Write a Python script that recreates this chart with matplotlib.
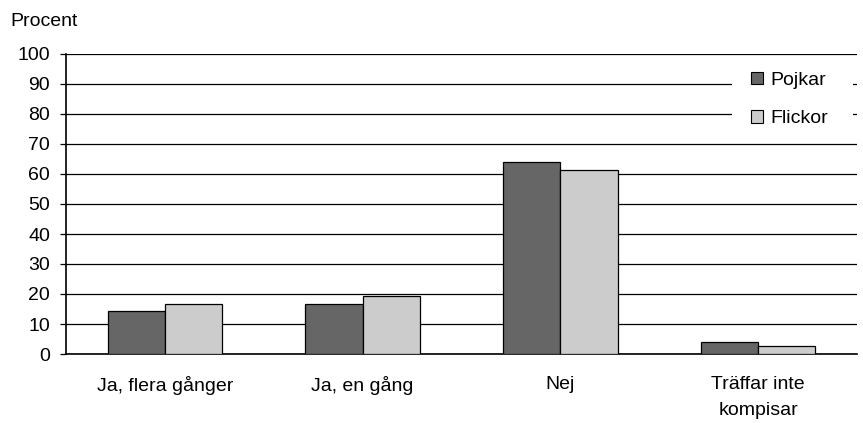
import numpy as np
import matplotlib
matplotlib.use('Agg')
import matplotlib.pyplot as plt
from matplotlib.patches import Rectangle

plt.rcParams['font.family'] = ['Liberation Sans', 'DejaVu Sans']

categories = ['Ja, flera gånger', 'Ja, en gång', 'Nej', 'Träffar inte\nkompisar']
pojkar = [14.5, 16.6, 63.9, 3.9]
flickor = [16.6, 19.4, 61.2, 2.6]
series_names = ['Pojkar', 'Flickor']
colors = ['#666666', '#cccccc']

fs = 14

fig = plt.figure(figsize=(8.63, 4.23), dpi=100)
ax = fig.add_axes([66 / 863, 1 - 354 / 423, (857 - 66) / 863, 300 / 423])

x = np.arange(len(categories))
w = 0.29
ax.bar(x - w / 2, pojkar, w, color=colors[0], edgecolor='black', linewidth=0.9,
       label=series_names[0], zorder=3)
ax.bar(x + w / 2, flickor, w, color=colors[1], edgecolor='black', linewidth=0.9,
       label=series_names[1], zorder=3)

ax.set_xlim(-0.5, len(categories) - 0.5)
ax.set_ylim(0, 100)
ax.set_yticks(np.arange(0, 101, 10))
ax.yaxis.grid(True, color='black', linewidth=0.9, zorder=0)
ax.set_axisbelow(True)
ax.set_xticks(x)
ax.set_xticklabels(categories, fontsize=fs, linespacing=1.7)
ax.tick_params(axis='x', length=0, pad=16)
ax.tick_params(axis='y', length=4.5, width=0.9, labelsize=fs, pad=7)
for s in ['top', 'right']:
    ax.spines[s].set_visible(False)
ax.spines['left'].set_linewidth(1.2)
ax.spines['bottom'].set_linewidth(1.2)

fig.text(10 / 863, 1 - 21 / 423, 'Procent', fontsize=fs, va='center', ha='left')

# white box behind the legend, hides the gridlines there
ax.add_patch(Rectangle((0.842, 0.713), 0.153, 0.26, transform=ax.transAxes,
                       facecolor='white', edgecolor='none', zorder=2))

leg = ax.legend(loc='upper left', bbox_to_anchor=(0.866, 0.94), frameon=False,
                fontsize=fs, handlelength=0.6, handleheight=0.6,
                labelspacing=1.1, borderpad=0, handletextpad=0.4,
                borderaxespad=0)
for h in leg.legend_handles:
    h.set_linewidth(0.8)

fig.savefig('out.png', dpi=100)
